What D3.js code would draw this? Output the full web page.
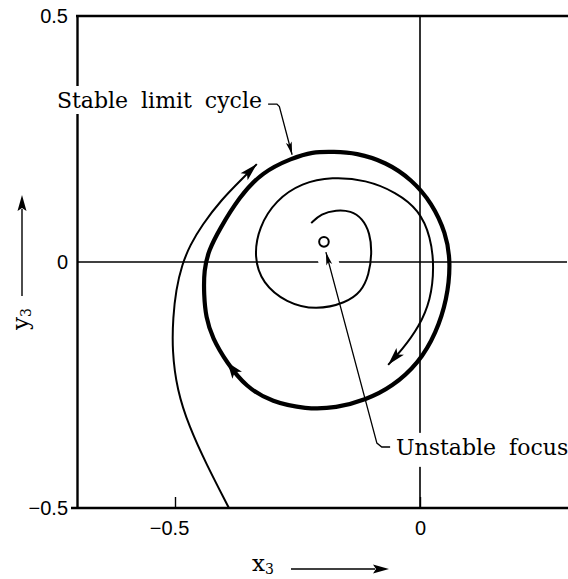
<!DOCTYPE html>
<html>
<head>
<meta charset="utf-8">
<script src="https://cdn.jsdelivr.net/npm/d3@7"></script>
<style>
  body { margin: 0; background: #fff; }
  svg { display: block; }
</style>
</head>
<body>
<svg id="chart" width="568" height="579"></svg>
<script>
// Phase plane (x3, y3): stable limit cycle around an unstable focus

const xDomain = [-0.7, 0.3];
const yDomain = [-0.5, 0.5];
const xTicks = [-0.5, 0];
const yTicks = [-0.5, 0, 0.5];

// Closed orbit (clockwise on the page)
const limitCycle = [
  [-0.220, 0.224], [-0.176, 0.224], [-0.131, 0.222], [-0.069, 0.203],
  [-0.016, 0.167], [0.024, 0.120], [0.053, 0.059], [0.063, -0.002],
  [0.055, -0.077], [0.033, -0.144], [-0.002, -0.205], [-0.057, -0.254],
  [-0.110, -0.280], [-0.171, -0.297], [-0.233, -0.299], [-0.302, -0.285],
  [-0.355, -0.254], [-0.394, -0.205], [-0.424, -0.154], [-0.437, -0.112],
  [-0.441, -0.067], [-0.441, -0.016], [-0.431, 0.024], [-0.410, 0.065],
  [-0.369, 0.132], [-0.322, 0.183], [-0.261, 0.211]
];

// Trajectory spiralling out of the focus towards the cycle
const innerSpiral = [
  [-0.222, 0.079], [-0.202, 0.098], [-0.171, 0.106], [-0.141, 0.104],
  [-0.118, 0.089], [-0.102, 0.059], [-0.098, 0.018], [-0.104, -0.026],
  [-0.120, -0.061], [-0.151, -0.083], [-0.212, -0.098], [-0.273, -0.083],
  [-0.322, -0.043], [-0.339, 0.010], [-0.329, 0.071], [-0.294, 0.126],
  [-0.241, 0.161], [-0.180, 0.173], [-0.110, 0.167], [-0.049, 0.142],
  [-0.002, 0.106], [0.022, 0.051], [0.029, -0.010], [0.022, -0.077],
  [-0.002, -0.132], [-0.037, -0.179], [-0.065, -0.209]
];

// Trajectory approaching the cycle from outside
const outerTrajectory = [
  [-0.390, -0.500], [-0.437, -0.409], [-0.471, -0.335], [-0.496, -0.260],
  [-0.506, -0.179], [-0.504, -0.112], [-0.498, -0.057], [-0.486, -0.006],
  [-0.469, 0.035], [-0.445, 0.075], [-0.406, 0.126], [-0.361, 0.171],
  [-0.333, 0.199]
];

const focusPoint = [-0.196, 0.041];
const cycleArrowAt = [-0.394, -0.205];

const cycleLabel = { text: "Stable limit cycle", at: [-0.741, 0.313] };
const focusLabel = { text: "Unstable focus", at: [-0.049, -0.392] };
const cycleLeader = [[-0.310, 0.321], [-0.292, 0.321], [-0.287, 0.316], [-0.261, 0.218]];
const focusLeader = [[-0.192, 0.020], [-0.088, -0.368], [-0.078, -0.376], [-0.061, -0.376]];

const svg = d3.select("#chart");
const x = d3.scaleLinear().domain(xDomain).range([77, 567]);
const y = d3.scaleLinear().domain(yDomain).range([508, 16]);

const serif = "'DejaVu Serif', serif";
const sans = "'Liberation Sans', Arial, sans-serif";
const toXY = d3.line().x(d => x(d[0])).y(d => y(d[1]));

// reference lines through the origin
svg.append("line")
  .attr("x1", x(xDomain[0])).attr("x2", x(xDomain[1]))
  .attr("y1", y(0)).attr("y2", y(0))
  .attr("stroke", "#000").attr("stroke-width", 1.6);
svg.append("line")
  .attr("x1", x(0)).attr("x2", x(0))
  .attr("y1", y(yDomain[1])).attr("y2", y(yDomain[0]))
  .attr("stroke", "#000").attr("stroke-width", 1.6);

// axes
const fmt = d => d === 0 ? "0" : (d < 0 ? "\u2212" : "") + String(Math.abs(d));
const xAxis = svg.append("g")
  .attr("transform", `translate(0,${y(yDomain[0])})`)
  .call(d3.axisBottom(x).tickValues(xTicks).tickSize(-11).tickSizeOuter(0).tickPadding(13).tickFormat(fmt));
xAxis.selectAll("text").attr("dx", d => d < 0 ? -6 : 0);
const yAxis = svg.append("g")
  .attr("transform", `translate(${x(xDomain[0])},0)`)
  .call(d3.axisLeft(y).tickValues(yTicks).tickSize(0).tickSizeOuter(0).tickPadding(9).tickFormat(fmt));
[xAxis, yAxis].forEach(g => {
  g.select(".domain").attr("stroke", "#000").attr("stroke-width", 2.4);
  g.selectAll(".tick line").attr("stroke", "#000").attr("stroke-width", 1.4);
  g.selectAll("text").attr("font-family", sans).attr("font-size", 20).attr("fill", "#000");
});
xAxis.select(".domain").attr("d", `M${x(xDomain[0]) - 6},0H568`);
// top frame
svg.append("line")
  .attr("x1", x(xDomain[0]) - 1).attr("x2", 568)
  .attr("y1", y(yDomain[1])).attr("y2", y(yDomain[1]))
  .attr("stroke", "#000").attr("stroke-width", 2.6);

// arrowhead helper: filled, notched triangle whose tip sits at length s of a path
function arrowHead(node, s, dir, len, half, notch) {
  const tip = node.getPointAtLength(s);
  const b = node.getPointAtLength(Math.max(0, Math.min(node.getTotalLength(), s - dir * len)));
  let ux = tip.x - b.x, uy = tip.y - b.y;
  const n = Math.hypot(ux, uy); ux /= n; uy /= n;
  const bx = tip.x - ux * len, by = tip.y - uy * len;
  const px = -uy, py = ux;
  const pts = [
    [tip.x, tip.y],
    [bx + px * half, by + py * half],
    [bx + ux * notch, by + uy * notch],
    [bx - px * half, by - py * half]
  ];
  svg.append("path").attr("d", "M" + pts.join("L") + "Z").attr("fill", "#000");
}
function nearestLength(node, pt) {
  const total = node.getTotalLength();
  let best = 0, bestD = Infinity;
  for (let s = 0; s <= total; s += 0.5) {
    const p = node.getPointAtLength(s);
    const d = (p.x - pt[0]) ** 2 + (p.y - pt[1]) ** 2;
    if (d < bestD) { bestD = d; best = s; }
  }
  return best;
}

// labels with white backing so lines beneath are broken
function backedLabel(lbl, padTop, padBottom) {
  const t = svg.append("text")
    .attr("x", x(lbl.at[0])).attr("y", y(lbl.at[1]))
    .attr("font-family", serif).attr("font-size", 22).attr("word-spacing", 6)
    .attr("fill", "#000").text(lbl.text);
  const bb = t.node().getBBox();
  svg.insert("rect", () => t.node())
    .attr("x", bb.x - 2).attr("y", bb.y - padTop)
    .attr("width", bb.width + 4).attr("height", bb.height + padTop + padBottom)
    .attr("fill", "#fff");
}
backedLabel(cycleLabel, 2, 1);
backedLabel(focusLabel, 2, 7);

// limit cycle
const cyc = svg.append("path")
  .attr("d", d3.line().x(d => x(d[0])).y(d => y(d[1])).curve(d3.curveBasisClosed)(limitCycle))
  .attr("fill", "none").attr("stroke", "#000").attr("stroke-width", 4.2);
arrowHead(cyc.node(), nearestLength(cyc.node(), [x(cycleArrowAt[0]), y(cycleArrowAt[1])]), 1, 16, 6, 4);

// trajectories
const curve = d3.line().x(d => x(d[0])).y(d => y(d[1])).curve(d3.curveBasis);
const sp = svg.append("path").attr("d", curve(innerSpiral))
  .attr("fill", "none").attr("stroke", "#000").attr("stroke-width", 2);
arrowHead(sp.node(), sp.node().getTotalLength(), 1, 18, 5, 4);
const ot = svg.append("path").attr("d", curve(outerTrajectory))
  .attr("fill", "none").attr("stroke", "#000").attr("stroke-width", 2);
arrowHead(ot.node(), ot.node().getTotalLength(), 1, 18, 5, 4);

// leaders
const cl = svg.append("path").attr("d", toXY(cycleLeader))
  .attr("fill", "none").attr("stroke", "#000").attr("stroke-width", 1.3);
arrowHead(cl.node(), cl.node().getTotalLength(), 1, 13, 3, 3);

// white gap where the focus leader crosses the horizontal axis
const fl0 = focusLeader[0], fl1 = focusLeader[1];
const tAxis = (0 - fl0[1]) / (fl1[1] - fl0[1]);
const cross = [fl0[0] + tAxis * (fl1[0] - fl0[0]), 0];
svg.append("line")
  .attr("x1", x(fl0[0])).attr("y1", y(fl0[1]))
  .attr("x2", x(cross[0]) + 2).attr("y2", y(cross[1]) + 7)
  .attr("stroke", "#fff").attr("stroke-width", 20);
const fl = svg.append("path").attr("d", toXY(focusLeader))
  .attr("fill", "none").attr("stroke", "#000").attr("stroke-width", 1.3);
arrowHead(fl.node(), 0, -1, 13, 3, 3);

// focus
svg.append("circle")
  .attr("cx", x(focusPoint[0])).attr("cy", y(focusPoint[1])).attr("r", 4.8)
  .attr("fill", "#fff").attr("stroke", "#000").attr("stroke-width", 2);

// axis titles with direction arrows
const xt = svg.append("text").attr("x", 252).attr("y", 571)
  .attr("font-family", serif).attr("font-size", 23).attr("fill", "#000");
xt.append("tspan").text("x");
xt.append("tspan").attr("font-size", 14).attr("dy", 3).text("3");
svg.append("line").attr("x1", 291).attr("x2", 375).attr("y1", 569).attr("y2", 569)
  .attr("stroke", "#000").attr("stroke-width", 1.4);
svg.append("path").attr("d", "M389,569L373,564.5L376,569L373,573.5Z").attr("fill", "#000");

const yt = svg.append("text").attr("transform", "translate(28,330) rotate(-90)")
  .attr("font-family", serif).attr("font-size", 23).attr("fill", "#000");
yt.append("tspan").text("y");
yt.append("tspan").attr("font-size", 14).attr("dy", 3).text("3");
svg.append("line").attr("x1", 22).attr("x2", 22).attr("y1", 296).attr("y2", 209)
  .attr("stroke", "#000").attr("stroke-width", 1.4);
svg.append("path").attr("d", "M22,195L17.5,211L22,208L26.5,211Z").attr("fill", "#000");
</script>
</body>
</html>
